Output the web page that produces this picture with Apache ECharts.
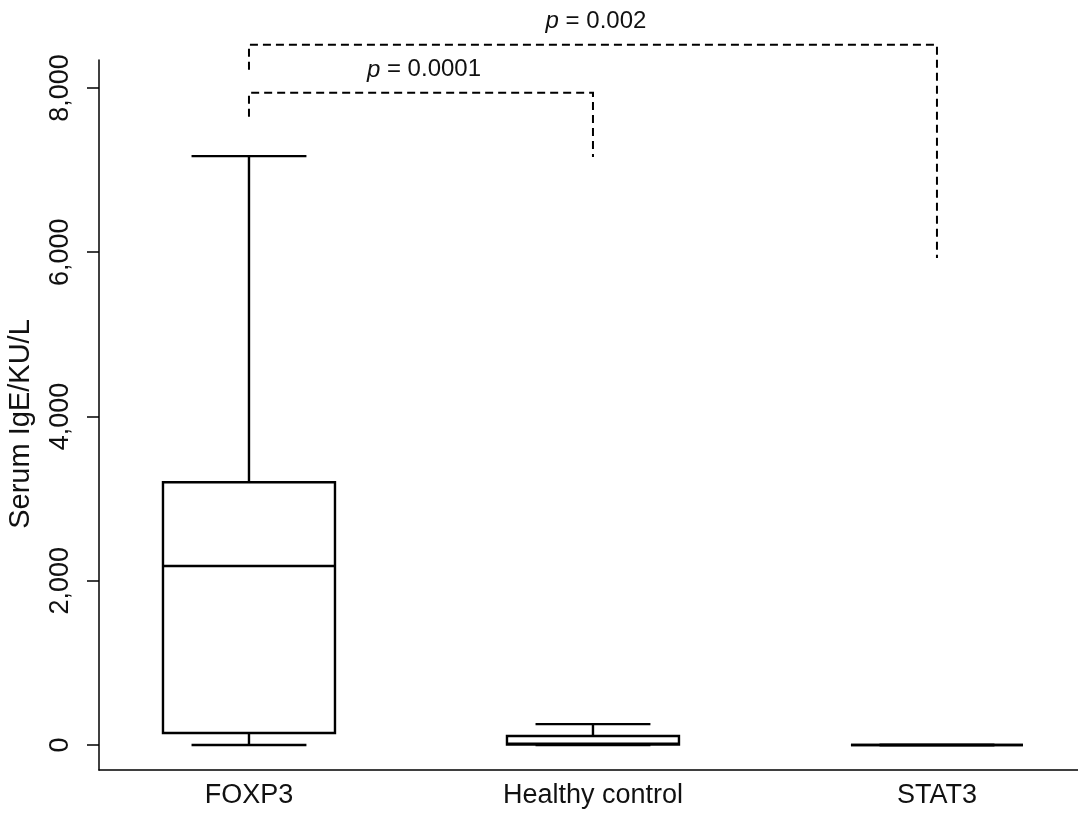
<!DOCTYPE html>
<html>
<head>
<meta charset="utf-8">
<script src="https://cdn.jsdelivr.net/npm/echarts@6/dist/echarts.min.js"></script>
<style>
  html, body { margin: 0; padding: 0; background: #fff; }
  #chart { width: 1078px; height: 814px; }
</style>
</head>
<body>
<div id="chart"></div>
<script>
// groups and box statistics (serum IgE, KU/L)
const categories = ['FOXP3', 'Healthy control', 'STAT3']
const mins = [0, 0, 0]
const q1s = [146, 5, 0]
const medians = [2180, 15, 0]
const q3s = [3200, 110, 0]
const maxs = [7170, 255, 0]
const yTicks = [0, 2000, 4000, 6000, 8000]

// significance brackets: from group, to group, bar height, left end, right end, text
const bracketFrom = [0, 0]
const bracketTo = [1, 2]
const bracketTop = [7940, 8525]
const bracketLeftEnd = [7650, 8220]
const bracketRightEnd = [7160, 5930]
const bracketText = ['0.0001', '0.002']

const chart = echarts.init(document.getElementById('chart'))

const boxData = categories.map((c, i) => [i, mins[i], q1s[i], medians[i], q3s[i], maxs[i]])
const bracketData = bracketFrom.map((f, i) => [f, bracketTo[i], bracketTop[i], bracketLeftEnd[i], bracketRightEnd[i], i])

const black = '#000'
const font = 'Liberation Sans'

const option = {
  backgroundColor: '#fff',
  animation: false,
  grid: { left: 99, right: 0, top: 60, bottom: 44, outerBoundsMode: 'none' },
  xAxis: {
    type: 'value',
    min: -0.436,
    max: 2.41,
    splitLine: { show: false },
    axisLine: { show: true, onZero: false, lineStyle: { color: black, width: 1.5 } },
    axisTick: { show: false },
    axisLabel: {
      customValues: [0, 1, 2],
      formatter: (v) => categories[Math.round(v)],
      color: '#111',
      fontSize: 27,
      fontFamily: font,
      margin: 12
    }
  },
  yAxis: {
    type: 'value',
    min: -304,
    max: 8340,
    name: 'Serum IgE/KU/L',
    nameLocation: 'middle',
    nameGap: 64,
    nameTextStyle: { color: '#111', fontSize: 29, fontFamily: font, padding: [0, 18, 0, 0] },
    splitLine: { show: false },
    axisLine: { show: true, onZero: false, lineStyle: { color: black, width: 1.5 } },
    axisTick: { show: true, customValues: yTicks, length: 12, lineStyle: { color: black, width: 1.5 } },
    axisLabel: {
      customValues: yTicks,
      rotate: 90,
      formatter: (v) => v.toLocaleString('en-US'),
      color: '#111',
      fontSize: 27,
      fontFamily: font,
      margin: 25
    }
  },
  series: [
    {
      type: 'custom',
      data: boxData,
      clip: false,
      renderItem: (params, api) => {
        const x = api.value(0)
        const half = api.size([0.25, 0])[0]
        const capHalf = api.size([0.167, 0])[0]
        const pMin = api.coord([x, api.value(1)])
        const pQ1 = api.coord([x, api.value(2)])
        const pMed = api.coord([x, api.value(3)])
        const pQ3 = api.coord([x, api.value(4)])
        const pMax = api.coord([x, api.value(5)])
        const cx = pMin[0]
        const ls = { stroke: black, lineWidth: 2.4, fill: null }
        return {
          type: 'group',
          children: [
            { type: 'line', shape: { x1: cx, y1: pMax[1], x2: cx, y2: pQ3[1] }, style: ls },
            { type: 'line', shape: { x1: cx, y1: pQ1[1], x2: cx, y2: pMin[1] }, style: ls },
            { type: 'line', shape: { x1: cx - capHalf, y1: pMax[1], x2: cx + capHalf, y2: pMax[1] }, style: ls },
            { type: 'line', shape: { x1: cx - capHalf, y1: pMin[1], x2: cx + capHalf, y2: pMin[1] }, style: ls },
            {
              type: 'rect',
              shape: { x: cx - half, y: pQ3[1], width: half * 2, height: pQ1[1] - pQ3[1] },
              style: { stroke: black, lineWidth: 2.4, fill: '#fff' }
            },
            { type: 'line', shape: { x1: cx - half, y1: pMed[1], x2: cx + half, y2: pMed[1] }, style: ls }
          ]
        }
      }
    },
    {
      type: 'custom',
      data: bracketData,
      clip: false,
      renderItem: (params, api) => {
        const a = api.coord([api.value(0), api.value(2)])
        const b = api.coord([api.value(1), api.value(2)])
        const aEnd = api.coord([api.value(0), api.value(3)])
        const bEnd = api.coord([api.value(1), api.value(4)])
        const ds = { stroke: black, lineWidth: 2, lineDash: [8, 5], fill: null }
        const idx = api.value(5)
        return {
          type: 'group',
          children: [
            { type: 'polyline', shape: { points: [aEnd, a, b, bEnd] }, style: ds },
            {
              type: 'text',
              x: (a[0] + b[0]) / 2 + 3,
              y: a[1] - 23,
              style: {
                text: '{i|p} = ' + bracketText[idx],
                align: 'center',
                verticalAlign: 'middle',
                fill: '#111',
                fontSize: 24,
                fontFamily: font,
                rich: {
                  i: { fontStyle: 'italic', fontSize: 24, fontFamily: font, fill: '#111' }
                }
              }
            }
          ]
        }
      }
    }
  ]
}

chart.setOption(option)

window.addEventListener('resize', () => {
  chart.resize()
})
</script>
</body>
</html>
